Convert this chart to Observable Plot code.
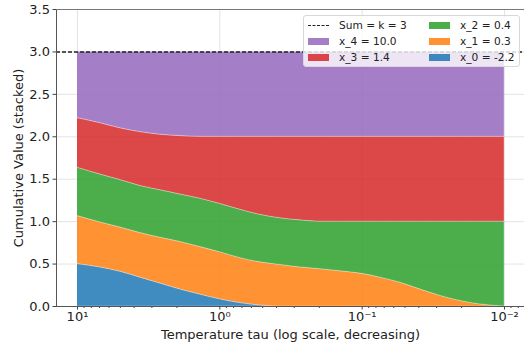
<!DOCTYPE html>
<html>
<head>
<meta charset="utf-8">
<script src="https://cdn.jsdelivr.net/npm/d3@7"></script>
<script src="https://cdn.jsdelivr.net/npm/@observablehq/plot@0.6"></script>
<style>
  html, body { margin: 0; padding: 0; background: #fff; }
  #wrap { position: relative; width: 524px; height: 345px; overflow: hidden; font-family: "DejaVu Sans", sans-serif; }
  #legend { position: absolute; left: 303px; top: 15px; width: 217px; height: 52px; background: rgba(255,255,255,0.8); border: 1px solid #d8d8d8; border-radius: 3px; box-sizing: border-box; font-size: 10.6px; color: #222; }
  .item { position: absolute; display: flex; align-items: center; white-space: nowrap; }
  .sw { width: 21px; height: 7px; margin-right: 10px; }
  .dash { width: 21px; height: 0; border-top: 1.4px dashed #222; margin-right: 10px; }
</style>
</head>
<body>
<div id="wrap"><div id="chart"></div><div id="legend"></div></div>
<script>
// Temperature samples (log scale, decreasing)
const tau = [10, 6.89, 4.99, 3.61, 2.61, 1.89, 1.37, 1.0, 0.716, 0.518, 0.375, 0.271, 0.196, 0.142, 0.1, 0.0743, 0.0538, 0.0389, 0.0282, 0.0204, 0.0148, 0.01];
// Per-component values (stacked bottom to top)
const x0 = [0.50, 0.46, 0.41, 0.34, 0.27, 0.20, 0.14, 0.085, 0.04, 0.012, 0, 0, 0, 0, 0, 0, 0, 0, 0, 0, 0, 0];
const x1 = [0.566, 0.53, 0.52, 0.525, 0.54, 0.56, 0.56, 0.555, 0.53, 0.508, 0.49, 0.46, 0.44, 0.415, 0.385, 0.34, 0.28, 0.20, 0.125, 0.065, 0.025, 0];
const x2 = [0.57, 0.565, 0.56, 0.555, 0.56, 0.56, 0.57, 0.57, 0.57, 0.56, 0.55, 0.555, 0.56, 0.585, 0.615, 0.66, 0.72, 0.80, 0.875, 0.935, 0.975, 1.0];
const x3 = [0.584, 0.605, 0.61, 0.635, 0.655, 0.688, 0.73, 0.79, 0.86, 0.92, 0.96, 0.985, 1, 1, 1, 1, 1, 1, 1, 1, 1, 1];
const x4 = [0.78, 0.84, 0.90, 0.945, 0.975, 0.992, 1, 1, 1, 1, 1, 1, 1, 1, 1, 1, 1, 1, 1, 1, 1, 1];
const seriesNames = ["x_0 = -2.2", "x_1 = 0.3", "x_2 = 0.4", "x_3 = 1.4", "x_4 = 10.0"];
const seriesValues = [x0, x1, x2, x3, x4];
const seriesColors = ["#1f77b4", "#ff7f0e", "#2ca02c", "#d62728", "#9467bd"];
const sumK = 3;
const sumLabel = "Sum = k = 3";
const xMajor = [10, 1, 0.1, 0.01];
const xMajorLabels = ["10¹", "10⁰", "10⁻¹", "10⁻²"];
const yTicks = [0, 0.5, 1, 1.5, 2, 2.5, 3, 3.5];

const xMinor = [];
for (const d of [10, 1, 0.1, 0.01]) for (let m = 2; m <= 9; m++) xMinor.push(d * m);
const xMinorAll = xMinor.concat([0.009, 0.008]).filter(v => v > 0.0073 && v < 14);

const rows = [];
seriesNames.forEach((s, i) => tau.forEach((t, j) => rows.push({tau: t, value: seriesValues[i][j], series: s})));

const fmtX = new Map(xMajor.map((v, i) => [v, xMajorLabels[i]]));

const chart = Plot.plot({
  width: 524,
  height: 345,
  marginLeft: 56,
  marginRight: 0,
  marginTop: 9,
  marginBottom: 39,
  style: {fontFamily: "DejaVu Sans, sans-serif", fontSize: "13.4px", color: "#222", background: "#fff"},
  x: {type: "log", domain: [Math.pow(10, 1.1475), Math.pow(10, -2.1405)]},
  y: {domain: [0, 3.5]},
  color: {domain: seriesNames, range: seriesColors},
  marks: [
    Plot.gridX(xMajor, {stroke: "#b0b0b0", strokeOpacity: 0.35}),
    Plot.gridY(yTicks, {stroke: "#b0b0b0", strokeOpacity: 0.35}),
    Plot.areaY(rows, {x: "tau", y: "value", fill: "series", fillOpacity: 0.85, curve: "monotone-x", stroke: "#fff", strokeWidth: 0.6, strokeOpacity: 0.5}),
    Plot.ruleY([sumK], {stroke: "#222", strokeWidth: 1.4, strokeDasharray: "4,2"}),
    Plot.axisX(xMinorAll, {tickSize: 2, tickFormat: () => "", stroke: "#444", label: null}),
    Plot.axisX(xMajor, {tickSize: 3.5, tickPadding: 2, tickFormat: d => fmtX.get(d), stroke: "#444", fontSize: 13, label: "Temperature tau (log scale, decreasing)", labelAnchor: "center", labelArrow: "none", labelOffset: 32}),
    Plot.axisY(yTicks, {tickSize: 3.5, tickPadding: 3, tickFormat: d => d.toFixed(1), stroke: "#444", fontSize: 13, label: "Cumulative Value (stacked)", labelAnchor: "center", labelArrow: "none", labelOffset: 43}),
    Plot.ruleX([Math.pow(10, 1.1475)], {stroke: "#555", strokeWidth: 1}),
    Plot.ruleY([0], {stroke: "#555", strokeWidth: 1}),
    Plot.ruleY([3.5], {stroke: "#777", strokeWidth: 1})
  ]
});
document.getElementById("chart").appendChild(chart);

// Legend (matplotlib-style, two columns)
const legend = document.getElementById("legend");
const items = [
  {label: sumLabel, dash: true, col: 0, row: 0},
  {label: seriesNames[4], color: seriesColors[4], col: 0, row: 1},
  {label: seriesNames[3], color: seriesColors[3], col: 0, row: 2},
  {label: seriesNames[2], color: seriesColors[2], col: 1, row: 0},
  {label: seriesNames[1], color: seriesColors[1], col: 1, row: 1},
  {label: seriesNames[0], color: seriesColors[0], col: 1, row: 2}
];
for (const it of items) {
  const div = document.createElement("div");
  div.className = "item";
  div.style.left = (it.col === 0 ? 4 : 125) + "px";
  div.style.top = (2 + it.row * 16.2) + "px";
  div.style.height = "14px";
  const h = document.createElement("span");
  if (it.dash) h.className = "dash";
  else { h.className = "sw"; h.style.background = it.color; h.style.opacity = 0.85; }
  const t = document.createElement("span");
  t.textContent = it.label;
  div.appendChild(h); div.appendChild(t);
  legend.appendChild(div);
}
</script>
</body>
</html>
